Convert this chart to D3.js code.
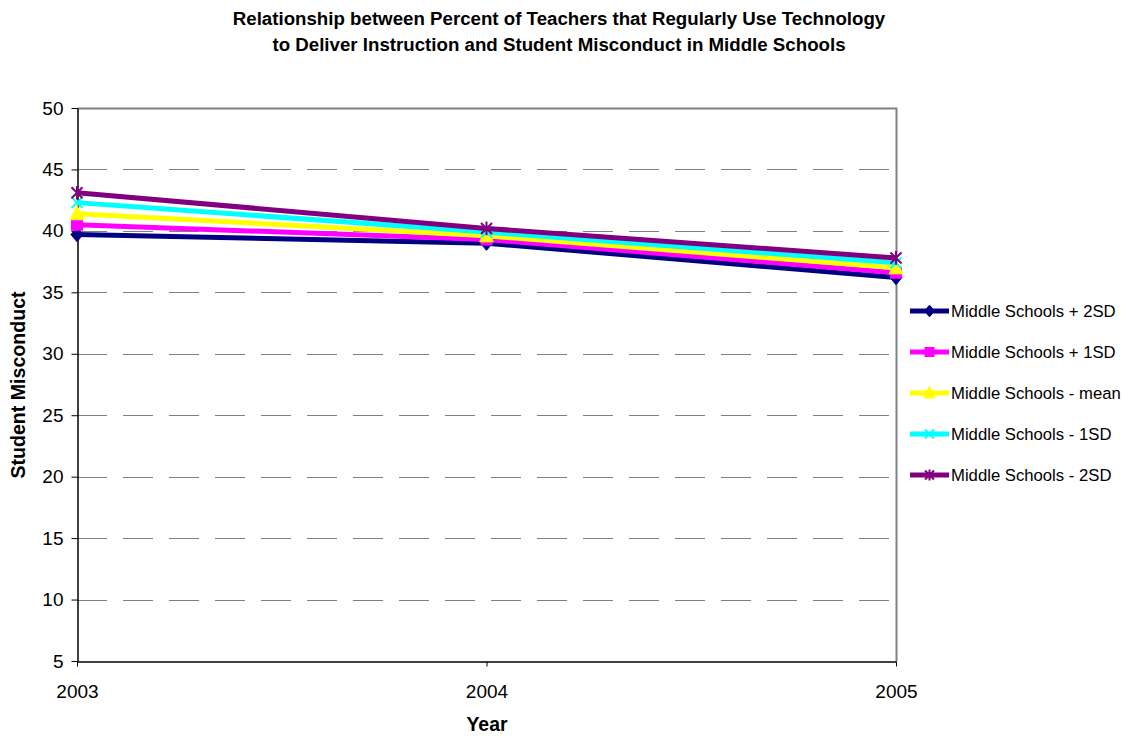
<!DOCTYPE html>
<html>
<head>
<meta charset="utf-8">
<script src="https://cdn.jsdelivr.net/npm/d3@7"></script>
<style>
  html, body { margin: 0; padding: 0; background: #fff; }
  svg { display: block; font-family: "Liberation Sans", Arial, sans-serif; }
</style>
</head>
<body>
<svg id="chart" width="1133" height="738"></svg>
<script>
// Years on the x axis
const years = [2003, 2004, 2005];

// Series names shown in the legend
const seriesNames = [
  "Middle Schools + 2SD",
  "Middle Schools + 1SD",
  "Middle Schools - mean",
  "Middle Schools - 1SD",
  "Middle Schools - 2SD"
];

// Student misconduct per year, one array per series
const plus2SD  = [39.7, 39.0, 36.2];
const plus1SD  = [40.5, 39.3, 36.6];
const meanVals = [41.4, 39.6, 37.0];
const minus1SD = [42.3, 39.9, 37.4];
const minus2SD = [43.1, 40.2, 37.8];

const yTicks = [5, 10, 15, 20, 25, 30, 35, 40, 45, 50];

const colors  = ["#000080", "#FF00FF", "#FFFF00", "#00FFFF", "#800080"];
const markers = ["diamond", "square", "triangle", "cross", "star"];

const seriesValues = [plus2SD, plus1SD, meanVals, minus1SD, minus2SD];
const series = seriesNames.map((name, i) => ({
  name, color: colors[i], marker: markers[i],
  points: years.map((yr, j) => ({ year: yr, value: seriesValues[i][j] }))
}));

const svg = d3.select("#chart");
const plot = { left: 77, right: 896, top: 108, bottom: 661 };

const x = d3.scalePoint().domain(years).range([plot.left, plot.right]);
const y = d3.scaleLinear().domain([5, 50]).range([plot.bottom, plot.top]);

// Title
const title = svg.append("text")
  .attr("text-anchor", "middle")
  .attr("font-size", 18.7).attr("font-weight", "bold").attr("fill", "#000");
title.append("tspan").attr("x", 559).attr("y", 25)
  .text("Relationship between Percent of Teachers that Regularly Use Technology");
title.append("tspan").attr("x", 559).attr("y", 51)
  .text("to Deliver Instruction and Student Misconduct in Middle Schools");

// Dashed horizontal gridlines
svg.append("g")
  .selectAll("line")
  .data(yTicks.filter(t => t > 5 && t < 50))
  .join("line")
  .attr("x1", plot.left).attr("x2", plot.right)
  .attr("y1", d => Math.round(y(d)) + 0.5).attr("y2", d => Math.round(y(d)) + 0.5)
  .attr("stroke", "#808080").attr("stroke-width", 1)
  .attr("stroke-dasharray", "30,16");

// Plot area frame (top and right)
svg.append("path")
  .attr("d", `M${plot.left},${plot.top + 0.5}H${plot.right + 0.5}V${plot.bottom}`)
  .attr("fill", "none").attr("stroke", "#808080").attr("stroke-width", 2);

// Y axis
const yAxis = svg.append("g")
  .attr("transform", `translate(${plot.left + 0.5},0)`)
  .call(d3.axisLeft(y).tickValues(yTicks).tickSize(6).tickPadding(8).tickSizeOuter(0));
yAxis.select(".domain").attr("stroke", "#000").attr("stroke-width", 1.5);
yAxis.selectAll(".tick line").attr("stroke", "#000");
yAxis.selectAll(".tick text")
  .attr("font-size", 19).attr("fill", "#000")
  .attr("font-family", "Liberation Sans, Arial, sans-serif");

// X axis
const xAxis = svg.append("g")
  .attr("transform", `translate(0,${plot.bottom + 0.5})`)
  .call(d3.axisBottom(x).tickSize(5).tickPadding(12).tickSizeOuter(0));
xAxis.select(".domain").attr("stroke", "#000").attr("stroke-width", 1.5);
xAxis.selectAll(".tick line").attr("stroke", "#000");
xAxis.selectAll(".tick text")
  .attr("font-size", 19).attr("fill", "#000")
  .attr("dy", null).attr("y", 36)
  .attr("font-family", "Liberation Sans, Arial, sans-serif");

// Axis titles
svg.append("text")
  .attr("x", 487).attr("y", 731).attr("text-anchor", "middle")
  .attr("font-size", 19.4).attr("font-weight", "bold").text("Year");
svg.append("text")
  .attr("transform", "translate(25,385) rotate(-90)")
  .attr("text-anchor", "middle")
  .attr("font-size", 19.6).attr("font-weight", "bold").text("Student Misconduct");

// Marker shapes
function drawMarker(g, type, color, size) {
  const s = size;
  switch (type) {
    case "diamond":
      g.append("path").attr("d", `M0,${-s * 0.65}L${s * 0.55},0L0,${s * 0.65}L${-s * 0.55},0Z`)
        .attr("fill", color).attr("stroke", color);
      break;
    case "square":
      g.append("rect").attr("x", -s / 2).attr("y", -s / 2).attr("width", s).attr("height", s)
        .attr("fill", color).attr("stroke", color);
      break;
    case "triangle":
      g.append("path").attr("d", `M0,${-s * 0.75}L${s * 0.62},${s * 0.55}L${-s * 0.62},${s * 0.55}Z`)
        .attr("fill", color).attr("stroke", color);
      break;
    case "cross":
      g.append("path").attr("d", `M${-s / 2},${-s / 2}L${s / 2},${s / 2}M${s / 2},${-s / 2}L${-s / 2},${s / 2}`)
        .attr("fill", "none").attr("stroke", color).attr("stroke-width", 2);
      break;
    case "star":
      g.append("path").attr("d", `M${-s / 2},${-s / 2}L${s / 2},${s / 2}M${s / 2},${-s / 2}L${-s / 2},${s / 2}M0,${-s * 0.62}L0,${s * 0.62}`)
        .attr("fill", "none").attr("stroke", color).attr("stroke-width", 2);
      break;
  }
}

const line = d3.line().x(d => x(d.year)).y(d => y(d.value));

// Series lines and markers
const seriesG = svg.append("g");
series.forEach(s => {
  const g = seriesG.append("g");
  g.append("path").datum(s.points)
    .attr("d", line).attr("fill", "none")
    .attr("stroke", s.color).attr("stroke-width", 5).attr("stroke-linejoin", "round");
  g.selectAll("g.m").data(s.points).join("g").attr("class", "m")
    .attr("transform", d => `translate(${x(d.year)},${y(d.value)})`)
    .each(function () { drawMarker(d3.select(this), s.marker, s.color, 11); });
});

// Legend
const legend = svg.append("g");
const rowY = d3.scalePoint().domain(seriesNames).range([311, 475]);
series.forEach(s => {
  const ry = rowY(s.name);
  const g = legend.append("g").attr("transform", `translate(0,${ry})`);
  g.append("line").attr("x1", 910).attr("x2", 949).attr("y1", 0).attr("y2", 0)
    .attr("stroke", s.color).attr("stroke-width", 5);
  const mg = g.append("g").attr("transform", "translate(929.5,0)");
  drawMarker(mg, s.marker, s.color, 9);
  g.append("text").attr("x", 951).attr("y", 6)
    .attr("font-size", 16.7).attr("fill", "#000").text(s.name);
});
</script>
</body>
</html>
